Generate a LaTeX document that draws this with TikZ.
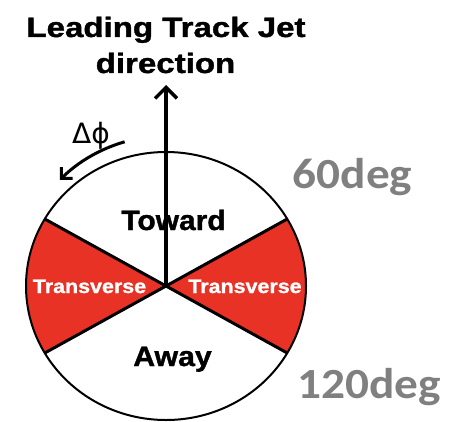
\documentclass[tikz,border=0pt]{standalone}
\usepackage{fontspec}
\setmainfont{Liberation Sans}[BoldFeatures={FakeBold=1.2}]
\newfontfamily\carlfont{Carlito}
\newfontfamily\djvfont{DejaVu Sans}
\usetikzlibrary{arrows.meta}
\definecolor{secred}{RGB}{232,50,38}
\definecolor{deggray}{RGB}{128,128,128}
\tikzset{
  lbl/.style={anchor=base, inner sep=0pt, font=\bfseries\fontsize{28}{30}\selectfont},
  trans/.style={anchor=base, inner sep=0pt, text=white, xscale=1.1, font=\bfseries\fontsize{19.5}{21}\selectfont},
  deg/.style={anchor=base, inner sep=0pt, text=deggray, xscale=1.1, font=\carlfont\bfseries\fontsize{43}{45}\selectfont},
  sector/.style={fill=secred},
  divider/.style={line width=3pt, black},
  rim/.style={line width=2pt, black},
  dirarrow/.style={line width=3.5pt, -{Straight Barb[length=11pt,width=22pt,line width=3.5pt]}},
  phiarrow/.style={line width=3pt, -{Straight Barb[length=8pt,width=16pt,line width=3pt]}}
}
\begin{document}
\begin{tikzpicture}[x=1pt,y=1pt]
\useasboundingbox (0,0) rectangle (454,421);
\coordinate (c) at (166,135);
% disc
\fill[white] (c) ellipse [x radius=140, y radius=134];
\fill[sector] (c) -- ++(30:140 and 134) arc [start angle=30, end angle=-30, x radius=140, y radius=134] -- cycle;
\fill[sector] (c) -- ++(150:140 and 134) arc [start angle=150, end angle=210, x radius=140, y radius=134] -- cycle;
\path (c) ++(30:140 and 134) coordinate (ur);
\path (c) ++(150:140 and 134) coordinate (ul);
\path (c) ++(210:140 and 134) coordinate (ll);
\path (c) ++(-30:140 and 134) coordinate (lr);
\draw[divider] (ul) -- (c) -- (lr);
\draw[divider] (ll) -- (c) -- (ur);
\draw[rim] (c) ellipse [x radius=140, y radius=134];
% direction arrow
\coordinate (tip) at (166,336);
\draw[dirarrow] (c) -- (tip);
% delta phi arrow
\path (c) ++(106:150) coordinate (phistart);
\draw[phiarrow] (phistart) arc [start angle=106, end angle=135, radius=150];
% texts
\node[lbl, xscale=1.18] (t1) at (166,384) {Leading Track Jet};
\node[lbl, xscale=1.18] (t2) at (165.5,348) {direction};
\node[lbl, xscale=1.07] (toward) at (173.5,191) {Toward};
\node[lbl, xscale=1.08] (away) at (172.5,55) {Away};
\node[trans] (trl) at (89.5,128) {Transverse};
\node[trans] (trr) at (245,128) {Transverse};
\node[anchor=base, inner sep=0pt, font=\djvfont\fontsize{28}{30}\selectfont] (dphi) at (91,278) {Δϕ};
\node[deg] (d60) at (352.5,233) {60deg};
\node[deg] (d120) at (369,23) {120deg};
\end{tikzpicture}
\end{document}
